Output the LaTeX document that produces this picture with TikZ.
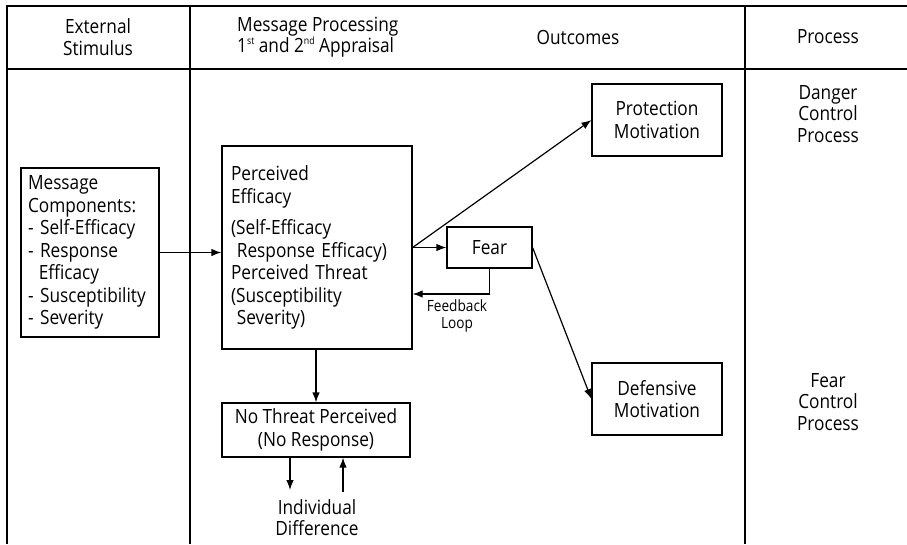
\documentclass[tikz,border=0pt]{standalone}
\usepackage{fontspec}
\setmainfont{Open Sans}[FakeStretch=0.88]
\usetikzlibrary{arrows.meta}
\newcommand{\mysup}[1]{\raisebox{0.75ex}{\fontsize{10}{10}\selectfont #1}}
\tikzset{
  frame/.style={line width=1.4pt},
  box/.style={draw, line width=1.2pt, inner sep=0pt, font=\fontsize{19.6}{22.5}\selectfont},
  txt/.style={inner sep=0pt, font=\fontsize{19.6}{21.5}\selectfont, align=center},
  small/.style={inner sep=0pt, font=\fontsize{15.5}{16.5}\selectfont, align=center},
  arr/.style={line width=1.2pt, -{Latex[length=10pt,width=7.5pt]}},
  ln/.style={line width=1.2pt}
}
\begin{document}
\begin{tikzpicture}[x=1pt,y=-1pt]
\useasboundingbox (0,0) rectangle (907,544);
% frame
\draw[frame] (907,6) -- (7,6) -- (7,544);
\draw[frame] (7,69) -- (907,69);
\draw[frame] (190,6) -- (190,544);
\draw[frame] (745,6) -- (745,544);
% headers
\node[txt] (h1) at (98,37) {External\\Stimulus};
\node[txt, anchor=west, align=left] (h2) at (237,37) {Message Processing\\1\mysup{st} and 2\mysup{nd} Appraisal};
\node[txt] (h3) at (578,37) {Outcomes};
\node[txt] (h4) at (828,37) {Process};
\node[txt] (dcp) at (828,114) {Danger\\Control\\Process};
\node[txt] (fcp) at (828,402) {Fear\\Control\\Process};
% boxes
\node[box, minimum width=138pt, minimum height=169pt, text width=124pt, align=left] (msg) at (90,252.5)
 {Message\\Components:\\- Self-Efficacy\\- Response\\\hspace*{0.55em}Efficacy\\- Susceptibility\\- Severity};
\node[box, minimum width=190pt, minimum height=203pt, text width=172pt, align=left] (perc) at (317,247.5)
 {Perceived\\Efficacy\\[9pt](Self-Efficacy\\\hspace*{0.3em}Response Efficacy)\\Perceived Threat\\(Susceptibility\\\hspace*{0.3em}Severity)};
\node[box, minimum width=85pt, minimum height=41pt] (fear) at (489.5,247.5) {Fear};
\node[box, minimum width=130pt, minimum height=72pt, align=center] (prot) at (657,120) {Protection\\Motivation};
\node[box, minimum width=130pt, minimum height=72pt, align=center] (def) at (657,399) {Defensive\\Motivation};
\node[box, minimum width=188pt, minimum height=54pt, align=center] (nt) at (316,430) {No Threat Perceived\\(No Response)};
\node[txt] (ind) at (317,517.5) {Individual\\Difference};
\node[small] (fbl) at (457,316) {Feedback\\Loop};
% connectors
\draw[arr] (msg.east) -- (msg.east -| perc.west);
\draw[arr] (perc.east) -- (fear.west);
\draw[arr] (perc.east) -- (prot.west);
\draw[arr] (fear.east) -- (def.west);
\coordinate (fb) at (490,294);
\draw[arr] (fear.south) |- (fb -| perc.east);
\draw[arr] (perc.south -| nt.north) -- (nt.north);
\coordinate (d1) at (290,490);
\draw[arr] (nt.south -| d1) -- (d1);
\coordinate (u1) at (343,492);
\draw[arr] (u1) -- (nt.south -| u1);
\end{tikzpicture}
\end{document}
